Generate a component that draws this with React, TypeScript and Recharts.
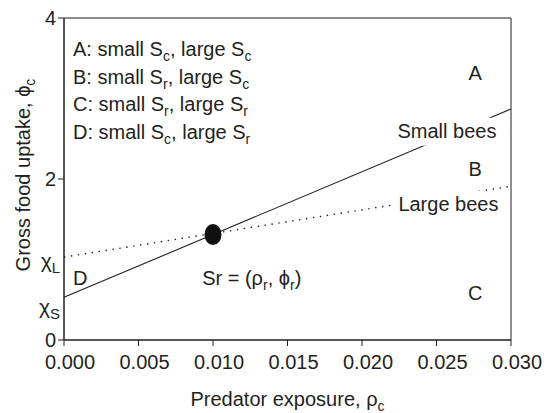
import React from "react";
import { LineChart, Line, XAxis, YAxis, ReferenceDot, ReferenceArea, Label } from "recharts";

// predator exposure at both ends of the lines
const rho = [0, 0.03];
// food uptake thresholds
const smallBees = [0.53, 2.87];
const largeBees = [1.03, 1.91];

const xTicks = [0, 0.005, 0.01, 0.015, 0.02, 0.025, 0.03];
const yTicks = [0, 2, 4];
// where the chi labels sit on the y axis
const chiTicks = [0.4, 0.97];
const chiNames = ["S", "L"];

// switching point Sr
const restRho = 0.01;
const restPhi = 1.31;

// legend rows: letter, small sub, large sub
const legendRows = [
  ["A", "c", "c"],
  ["B", "r", "c"],
  ["C", "r", "r"],
  ["D", "c", "r"],
];
const legendY = [3.61, 3.27, 2.93, 2.58];
const legendX = 0.0006;

const regionNames = ["A", "B", "C", "D"];
const regionX = [0.0276, 0.0276, 0.0276, 0.0006];
const regionY = [3.32, 2.12, 0.58, 0.77];

const lineNames = ["Small bees", "Large bees"];
const lineNameX = [0.0257, 0.0258];
const lineNameY = [2.6, 1.69];

const data = rho.map((r, i) => ({ rho: r, small: smallBees[i], large: largeBees[i] }));

const INK = "#231f20";
const FONT = "'Liberation Sans', Arial, sans-serif";

function XTick({ x, y, payload }: any) {
  return (
    <text x={x + 6} y={y} dy="0.71em" textAnchor="middle" fontSize={20} fill={INK} fontFamily={FONT}>
      {payload.value.toFixed(3)}
    </text>
  );
}

function YTick({ x, y, payload }: any) {
  const v = payload.value;
  const ci = chiTicks.indexOf(v);
  if (ci >= 0) {
    return (
      <text x={x + 4} y={y} dy="0.3em" textAnchor="end" fontSize={21} fill={INK} fontFamily={FONT}>
        χ<tspan fontSize={15} dy={5}>{chiNames[ci]}</tspan>
      </text>
    );
  }
  return (
    <g>
      <line x1={x + 2} x2={x + 8} y1={y} y2={y} stroke={INK} />
      <text x={x} y={y} dy="0.35em" textAnchor="end" fontSize={20} fill={INK} fontFamily={FONT}>
        {v}
      </text>
    </g>
  );
}

function LegendRow({ cx, cy, row }: any) {
  return (
    <text x={cx} y={cy} dy="0.35em" fontSize={20} fill={INK} fontFamily={FONT}>
      {row[0]}: small S<tspan fontSize={14} dy={5}>{row[1]}</tspan>
      <tspan dy={-5}>, large S</tspan>
      <tspan fontSize={14} dy={5}>{row[2]}</tspan>
    </text>
  );
}

function BoxedName({ cx, cy, text }: any) {
  const w = text.length * 10.6;
  return (
    <g>
      <rect x={cx - w / 2 - 3} y={cy - 13} width={w + 6} height={28} fill="#fff" />
      <text x={cx} y={cy} dy="0.35em" textAnchor="middle" fontSize={20} fill={INK} fontFamily={FONT}>
        {text}
      </text>
    </g>
  );
}

export default function App() {
  return (
    <div style={{ position: "absolute", left: 0, top: 0, background: "#fff" }}>
      <LineChart width={544} height={413} data={data} margin={{ top: 18, right: 33, bottom: 18, left: 20 }}>
        <XAxis
          dataKey="rho"
          type="number"
          domain={[0, 0.03]}
          ticks={xTicks}
          tick={<XTick />}
          tickSize={6}
          tickMargin={9}
          height={55}
          stroke={INK}
          interval={0}
        >
          <Label
            content={({ viewBox }: any) => (
              <text
                x={viewBox.x + viewBox.width / 2}
                y={viewBox.y + 66}
                textAnchor="middle"
                fontSize={20}
                fill={INK}
                fontFamily={FONT}
              >
                Predator exposure, ρ<tspan fontSize={14} dy={5}>c</tspan>
              </text>
            )}
          />
        </XAxis>
        <YAxis
          type="number"
          domain={[0, 4]}
          ticks={[...yTicks, ...chiTicks]}
          tick={<YTick />}
          tickLine={false}
          tickSize={6}
          tickMargin={2}
          width={44}
          stroke={INK}
          interval={0}
        >
          <Label
            content={() => (
              <text
                x={30}
                y={175}
                transform="rotate(-90 30 175)"
                textAnchor="middle"
                fontSize={20}
                fill={INK}
                fontFamily={FONT}
              >
                Gross food uptake, ϕ<tspan fontSize={14} dy={5}>c</tspan>
              </text>
            )}
          />
        </YAxis>
        <ReferenceArea x1={0} x2={0.03} y1={0} y2={4} fill="none" stroke={INK} strokeWidth={1} />
        <Line
          dataKey="small"
          stroke={INK}
          strokeWidth={1.1}
          dot={false}
          isAnimationActive={false}
        />
        <Line
          dataKey="large"
          stroke={INK}
          strokeWidth={1.4}
          strokeDasharray="1.4 5.6"
          dot={false}
          isAnimationActive={false}
        />
        <ReferenceDot
          x={restRho}
          y={restPhi}
          r={9}
          shape={({ cx, cy }: any) => <ellipse cx={cx} cy={cy} rx={8.5} ry={10.5} fill="#111" />}
        />
        <ReferenceDot
          x={0.0126}
          y={0.77}
          r={0}
          shape={({ cx, cy }: any) => (
            <text x={cx} y={cy} dy="0.35em" textAnchor="middle" fontSize={20} fill={INK} fontFamily={FONT}>
              Sr = (ρ<tspan fontSize={14} dy={5}>r</tspan>
              <tspan dy={-5}>, ϕ</tspan>
              <tspan fontSize={14} dy={5}>r</tspan>
              <tspan dy={-5}>)</tspan>
            </text>
          )}
        />
        {lineNames.map((n, i) => (
          <ReferenceDot
            key={n}
            x={lineNameX[i]}
            y={lineNameY[i]}
            r={0}
            shape={({ cx, cy }: any) => <BoxedName cx={cx} cy={cy} text={n} />}
          />
        ))}
        {regionNames.map((n, i) => (
          <ReferenceDot
            key={n}
            x={regionX[i]}
            y={regionY[i]}
            r={0}
            shape={({ cx, cy }: any) => (
              <text x={cx} y={cy} dy="0.35em" textAnchor={i === 3 ? "start" : "middle"} fontSize={20} fill={INK} fontFamily={FONT}>
                {n}
              </text>
            )}
          />
        ))}
        {legendRows.map((row, i) => (
          <ReferenceDot
            key={row[0]}
            x={legendX}
            y={legendY[i]}
            r={0}
            shape={({ cx, cy }: any) => <LegendRow cx={cx} cy={cy} row={row} />}
          />
        ))}
      </LineChart>
    </div>
  );
}
